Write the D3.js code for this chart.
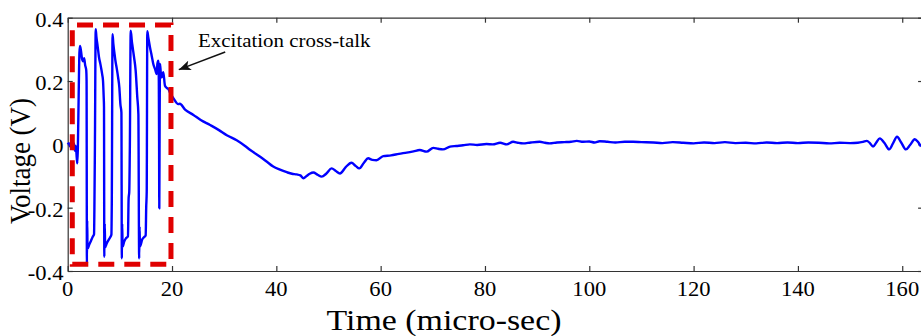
<!DOCTYPE html>
<html>
<head>
<meta charset="utf-8">
<script src="https://cdn.jsdelivr.net/npm/d3@7"></script>
<style>
  body { margin: 0; background: #fff; }
  svg { display: block; }
</style>
</head>
<body>
<svg id="chart" width="921" height="336"></svg>
<script>
// signal (time in micro-sec, voltage in V)
const timeUs = [
  0.00, 0.25, 0.50, 0.75, 1.00, 1.20, 1.40, 1.55, 1.75, 1.85, 1.95, 2.10, 2.25, 2.36,
  2.55, 2.75, 2.95, 3.15, 3.35, 3.55, 3.62,
  3.68, 3.74, 3.80, 4.10, 4.45, 4.80, 5.05, 5.12, 5.22, 5.37,
  5.50, 5.68, 5.85, 6.00, 6.25, 6.44, 6.62, 6.77, 6.90, 6.96,
  7.02, 7.10, 7.18, 7.50, 7.85, 8.20, 8.38, 8.45, 8.60,
  8.75, 8.95, 9.15, 9.40, 9.66, 9.90, 10.10, 10.30,
  10.38, 10.45, 10.52, 10.85, 11.20, 11.55, 11.68, 11.80, 11.92, 12.08,
  12.30, 12.46, 12.72, 13.03, 13.34, 13.55,
  13.70, 13.78, 13.85, 14.30, 14.70, 14.95, 15.05, 15.15, 15.26,
  15.45, 15.78, 16.10, 16.41, 16.74, 17.06, 17.20, 17.37, 17.47, 17.52, 17.56, 17.62, 17.70,
  17.85, 18.02, 18.33, 18.65, 19.00, 19.29, 19.61, 20.25, 21.2, 21.5, 22.5, 24.1, 25.5,
  27.3, 29.0, 30.5, 32.4, 34.0, 35.0, 36.9, 38.2, 39.4, 40.7, 42.0, 43.0, 43.9, 44.6,
  45.2, 45.8, 46.4, 47.1, 47.9, 48.7, 49.6, 50.6, 51.4, 52.2, 53.3, 54.4, 55.2, 55.9,
  56.8, 57.6, 58.4, 59.2, 60.5, 62.0, 63.5, 65.0, 66.3, 67.5, 68.8, 70.1, 71.0, 71.95,
  73.3, 74.5, 75.8, 77.1, 78.5, 80.3, 81.5, 82.9, 84.2, 85.4, 86.3, 87.3, 88.8, 90.5,
  91.5, 92.4, 93.8, 95.2, 96.5, 97.6, 98.8, 100.0, 101.0, 102.0, 103.5, 105.0, 106.8,
  108.4, 110.0, 112.3, 114.0, 116.0, 118.0, 120.0, 122.0, 124.0, 126.0, 128.0, 130.0,
  132.0, 134.0, 136.0, 138.0, 140.0, 142.0, 144.0, 146.0, 148.0, 150.0, 151.5, 152.5,
  153.2, 153.8, 154.4, 155.0, 155.7, 156.6, 157.5, 158.2, 159.0, 159.8, 160.7, 161.5,
  162.4, 163.0, 163.6
];
const voltage = [
  0.000, 0.004, -0.008, 0.002, -0.015, 0.003, -0.020, -0.005, -0.045, -0.060, -0.010, 0.150, 0.290, 0.311,
  0.295, 0.270, 0.262, 0.272, 0.250, 0.235, 0.200,
  -0.376, -0.240, -0.330, -0.318, -0.305, -0.292, -0.284, -0.200, 0.000, 0.364,
  0.340, 0.317, 0.295, 0.275, 0.255, 0.238, 0.220, 0.201, 0.150, 0.118,
  -0.355, -0.250, -0.325, -0.312, -0.302, -0.292, -0.285, -0.190, 0.348,
  0.317, 0.290, 0.264, 0.240, 0.212, 0.180, 0.127, 0.100,
  -0.360, -0.250, -0.323, -0.306, -0.296, -0.290, -0.170, -0.150, 0.000, 0.359,
  0.325, 0.306, 0.275, 0.233, 0.149, 0.096,
  -0.360, -0.260, -0.323, -0.300, -0.292, -0.288, -0.200, -0.150, 0.357,
  0.338, 0.306, 0.280, 0.254, 0.238, 0.222, 0.255, 0.264, 0.200, 0.010, -0.202, 0.050, 0.254,
  0.225, 0.212, 0.228, 0.185, 0.178, 0.175, 0.164, 0.146, 0.127, 0.128, 0.110, 0.093, 0.077,
  0.061, 0.045, 0.029, 0.013, -0.005, -0.018, -0.039, -0.055, -0.070, -0.080, -0.088, -0.093, -0.095, -0.098,
  -0.107, -0.100, -0.093, -0.089, -0.096, -0.102, -0.092, -0.076, -0.084, -0.092, -0.072, -0.058, -0.068, -0.076,
  -0.058, -0.044, -0.049, -0.050, -0.037, -0.035, -0.030, -0.026, -0.022, -0.018, -0.023, -0.011, -0.014, -0.016,
  -0.007, -0.005, -0.003, 0.000, -0.002, 0.001, 0.000, 0.005, 0.000, 0.008, 0.005, 0.003, 0.006, 0.008,
  0.005, 0.003, 0.006, 0.007, 0.008, 0.011, 0.008, 0.009, 0.006, 0.010, 0.008, 0.006, 0.008,
  0.008, 0.007, 0.006, 0.004, 0.007, 0.005, 0.003, 0.006, 0.004, 0.007, 0.004, 0.005,
  0.003, 0.006, 0.004, 0.006, 0.004, 0.006, 0.005, 0.003, 0.005, 0.004, 0.005, 0.008,
  0.011, 0.004, -0.007, 0.005, 0.019, 0.004, -0.016, 0.002, 0.024, 0.006, -0.016, -0.002,
  0.016, 0.008, -0.007
];

const xTicks = [0, 20, 40, 60, 80, 100, 120, 140, 160];
const yTicks = [-0.4, -0.2, 0, 0.2, 0.4];

// dashed box around the burst: [t0, t1, v0, v1]
const crossTalkBox = [0.88, 19.8, -0.379, 0.377];
// annotation: text anchor, arrow tail, arrow tip (data units)
const noteText = 'Excitation cross-talk';
const noteAt = [25.0, 0.307];
const arrowFrom = [30.2, 0.292];
const arrowTo = [21.3, 0.236];

const STRETCH = 1.13; // the source figure is widened a bit
const serif = '"Liberation Serif", "Times New Roman", serif';

const svg = d3.select('#chart');
svg.append('rect').attr('width', 921).attr('height', 336).attr('fill', '#fff');

const x = d3.scaleLinear().domain([0, 164]).range([67.7, 923.1]);
const y = d3.scaleLinear().domain([-0.4, 0.4]).range([271, 17.7]);

const axisColor = '#333';

function styleAxis (g) {
  g.selectAll('path, line').attr('stroke', axisColor).attr('stroke-width', 1.2);
  g.selectAll('text').remove();
}

svg.append('g').attr('transform', `translate(0,${y.range()[0]})`)
  .call(d3.axisBottom(x).tickValues(xTicks).tickSizeInner(-5).tickSizeOuter(0))
  .call(styleAxis);
svg.append('g').attr('transform', `translate(0,${y.range()[1]})`)
  .call(d3.axisTop(x).tickValues(xTicks).tickSizeInner(-5).tickSizeOuter(0))
  .call(styleAxis);
svg.append('g').attr('transform', `translate(${x.range()[0]},0)`)
  .call(d3.axisLeft(y).tickValues(yTicks).tickSizeInner(-5).tickSizeOuter(0))
  .call(styleAxis);
svg.append('g').attr('transform', `translate(${x.range()[1]},0)`)
  .call(d3.axisRight(y).tickValues(yTicks).tickSizeInner(-5).tickSizeOuter(0))
  .call(styleAxis);

// tick labels
svg.selectAll('.xlab').data(xTicks).join('text')
  .attr('class', 'xlab')
  .attr('transform', d => `translate(${x(d)},296) scale(${STRETCH},1)`)
  .attr('text-anchor', 'middle')
  .attr('font-family', serif).attr('font-size', 20)
  .text(d => d);

svg.selectAll('.ylab').data(yTicks).join('text')
  .attr('class', 'ylab')
  .attr('transform', d => `translate(63.5,${y(d) + 9}) scale(${STRETCH},1)`)
  .attr('text-anchor', 'end')
  .attr('font-family', serif).attr('font-size', 20)
  .text(d => d === 0 ? '0' : String(d));

// axis titles
svg.append('text')
  .attr('transform', `translate(444,330) scale(${STRETCH},1)`)
  .attr('text-anchor', 'middle')
  .attr('font-family', serif).attr('font-size', 30)
  .text('Time (micro-sec)');

svg.append('text')
  .attr('transform', `translate(29.5,161) scale(${STRETCH},1) rotate(-90)`)
  .attr('text-anchor', 'middle')
  .attr('font-family', serif).attr('font-size', 27)
  .text('Voltage (V)');

// signal
const trace = d3.zip(timeUs, voltage);
const line = d3.line()
  .x(d => x(d[0]))
  .y(d => y(d[1]))
  .curve(d3.curveMonotoneX);
svg.append('path')
  .attr('d', line(trace))
  .attr('fill', 'none')
  .attr('stroke', '#0000ff')
  .attr('stroke-width', 2.4)
  .attr('stroke-linejoin', 'round');

// dashed box, drawn from bottom-left going right
const [t0, t1, v0, v1] = crossTalkBox;
const boxPath = d3.path();
boxPath.moveTo(x(t0), y(v0));
boxPath.lineTo(x(t1), y(v0));
boxPath.lineTo(x(t1), y(v1));
boxPath.lineTo(x(t0), y(v1));
boxPath.closePath();
svg.append('path')
  .attr('d', boxPath.toString())
  .attr('fill', 'none')
  .attr('stroke', '#e00000')
  .attr('stroke-width', 5)
  .attr('stroke-dasharray', '16 10');

// annotation
svg.append('text')
  .attr('transform', `translate(${x(noteAt[0])},${y(noteAt[1])}) scale(1.1,1)`)
  .attr('font-family', serif).attr('font-size', 19)
  .text(noteText);

svg.append('defs').append('marker')
  .attr('id', 'head')
  .attr('viewBox', '0 0 12 10')
  .attr('refX', 12).attr('refY', 5)
  .attr('markerWidth', 12).attr('markerHeight', 10)
  .attr('markerUnits', 'userSpaceOnUse')
  .attr('orient', 'auto')
  .append('path').attr('d', 'M0,0L12,5L0,10L3,5Z').attr('fill', '#111');

svg.append('line')
  .attr('x1', x(arrowFrom[0])).attr('y1', y(arrowFrom[1]))
  .attr('x2', x(arrowTo[0])).attr('y2', y(arrowTo[1]))
  .attr('stroke', '#111').attr('stroke-width', 1.6)
  .attr('marker-end', 'url(#head)');
</script>
</body>
</html>
